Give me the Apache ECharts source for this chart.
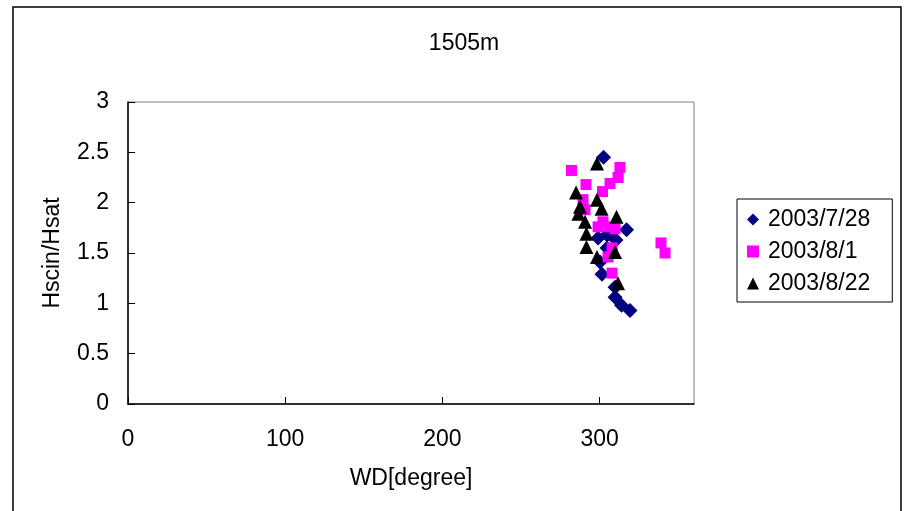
<!DOCTYPE html>
<html>
<head>
<meta charset="utf-8">
<script src="https://cdn.jsdelivr.net/npm/echarts@6/dist/echarts.min.js"></script>
<style>
  html, body { margin: 0; padding: 0; background: #fff; }
  #chart { width: 909px; height: 511px; }
</style>
</head>
<body>
<div id="chart"></div>
<script>
// Wind direction [degree] vs. Hscin/Hsat at 1505 m, three observation days
const titleText = '1505m';
const seriesNames = ['2003/7/28', '2003/8/1', '2003/8/22'];

const wd0728 = [302.5, 317.1, 299.0, 304.7, 310.4, 304.7, 300.2, 301.5, 309.8, 309.8, 313.9, 319.3];
const h0728  = [2.45, 1.73, 1.65, 1.68, 1.63, 1.55, 1.41, 1.29, 1.16, 1.06, 0.98, 0.93];

const wd0801 = [282.1, 312.9, 311.7, 306.6, 291.3, 301.8, 289.4, 290.7, 302.1, 299.0, 306.0, 309.8, 307.9, 305.3, 307.9, 339.0, 341.6];
const h0801  = [2.32, 2.35, 2.25, 2.19, 2.18, 2.11, 2.03, 1.93, 1.81, 1.76, 1.76, 1.74, 1.55, 1.46, 1.30, 1.60, 1.50];

const wd0822 = [298.3, 285.0, 298.3, 287.5, 301.2, 286.5, 310.7, 290.7, 291.6, 291.6, 309.8, 298.3, 311.7];
const h0822  = [2.39, 2.10, 2.03, 1.96, 1.94, 1.89, 1.86, 1.81, 1.69, 1.56, 1.51, 1.46, 1.20];

const xTicks = [0, 100, 200, 300];
const yTicks = [0, 0.5, 1, 1.5, 2, 2.5, 3];

function pairs(xs, ys) { return xs.map((x, i) => [x, ys[i]]); }

const FONT = "'Liberation Sans', Arial, sans-serif";
const chart = echarts.init(document.getElementById('chart'), null, { renderer: 'canvas' });

chart.setOption({
  backgroundColor: '#ffffff',
  animation: false,
  textStyle: { fontFamily: FONT, color: '#000' },
  title: {
    text: titleText,
    left: 459, top: 27, textAlign: 'center',
    textStyle: { fontFamily: FONT, fontSize: 23, fontWeight: 'normal', color: '#000' }
  },
  graphic: [{
    type: 'rect', silent: true, z: -1,
    shape: { x: 13, y: 7, width: 888, height: 530 },
    style: { fill: 'none', stroke: '#000', lineWidth: 1.5 }
  }],
  grid: {
    left: 128, right: 215, top: 102, bottom: 107,
    show: true, borderColor: '#808080', borderWidth: 1, backgroundColor: '#fff'
  },
  legend: {
    orient: 'vertical',
    left: 737, top: 199,
    padding: [9, 22, 7, 10],
    itemGap: 9,
    itemWidth: 12, itemHeight: 12,
    borderColor: '#000', borderWidth: 1, borderRadius: 0,
    textStyle: { fontFamily: FONT, fontSize: 23, color: '#000', padding: [0, 0, 0, 4] },
    data: seriesNames
  },
  xAxis: {
    type: 'value', min: 0, max: 360, interval: 100,
    name: 'WD[degree]', nameLocation: 'middle', nameGap: 63,
    nameTextStyle: { fontFamily: FONT, fontSize: 23, color: '#000' },
    axisLine: { show: true, onZero: false, lineStyle: { color: '#000', width: 1.5 } },
    axisTick: { show: true, inside: true, length: 7, lineStyle: { color: '#000' } },
    axisLabel: { fontFamily: FONT, fontSize: 23, color: '#000', margin: 24, showMaxLabel: false,
      formatter: v => (xTicks.indexOf(v) >= 0 ? String(v) : '') },
    splitLine: { show: false }
  },
  yAxis: {
    type: 'value', min: 0, max: 3, interval: 0.5,
    name: 'Hscin/Hsat', nameLocation: 'middle', nameGap: 64, nameRotate: 90,
    nameTextStyle: { fontFamily: FONT, fontSize: 23, color: '#000' },
    axisLine: { show: true, onZero: false, lineStyle: { color: '#000', width: 1.5 } },
    axisTick: { show: true, inside: true, length: 7, lineStyle: { color: '#000' } },
    axisLabel: { fontFamily: FONT, fontSize: 23, color: '#000', margin: 19,
      formatter: v => (yTicks.indexOf(v) >= 0 ? String(v) : '') },
    splitLine: { show: false }
  },
  series: [
    {
      name: seriesNames[0], type: 'scatter', symbol: 'diamond', symbolSize: 15,
      itemStyle: { color: '#000080', opacity: 1 },
      data: pairs(wd0728, h0728)
    },
    {
      name: seriesNames[1], type: 'scatter', symbol: 'rect', symbolSize: 11,
      itemStyle: { color: '#ff00ff', opacity: 1 },
      data: pairs(wd0801, h0801)
    },
    {
      name: seriesNames[2], type: 'scatter', symbol: 'triangle', symbolSize: 14,
      itemStyle: { color: '#000000', opacity: 1 },
      data: pairs(wd0822, h0822)
    }
  ]
});
</script>
</body>
</html>
